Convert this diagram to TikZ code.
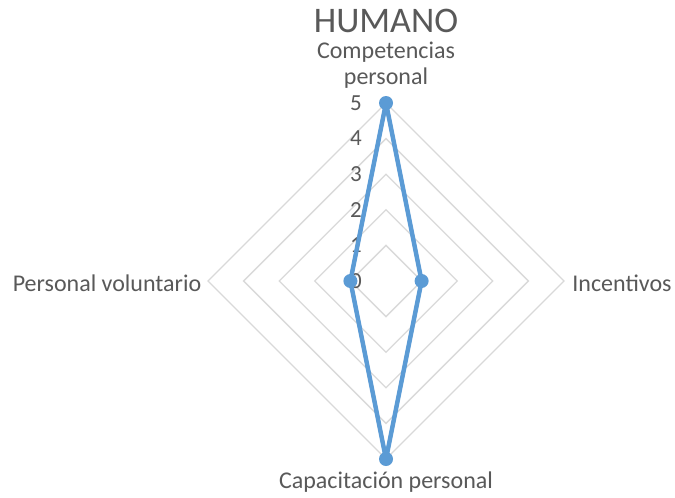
\documentclass[tikz,border=0pt]{standalone}
\usepackage{fontspec}
\setmainfont{Carlito}
\usetikzlibrary{calc}
\begin{document}
\begin{tikzpicture}[x=1pt,y=-1pt,
  grid/.style={draw=gridgray,line width=1.3pt},
  series/.style={draw=serblue,line width=4.5pt,line join=round},
  dot/.style={circle,fill=serblue,inner sep=0pt,minimum size=14pt},
  lbl/.style={text=txtgray,font=\fontsize{24}{28}\selectfont,inner sep=0pt},
  num/.style={text=txtgray,font=\fontsize{23}{26}\selectfont,inner sep=0pt}]
\definecolor{gridgray}{HTML}{D9D9D9}
\definecolor{serblue}{HTML}{5B9BD5}
\definecolor{txtgray}{HTML}{595959}
\useasboundingbox (0,0) rectangle (675,498);
\fill[white] (0,0) rectangle (675,498);
\coordinate (c) at (386,281);
\def\u{35.6}
\foreach \k in {1,...,5}{
  \draw[grid] ($(c)+(0,-\k*\u)$) -- ($(c)+(\k*\u,0)$) -- ($(c)+(0,\k*\u)$) -- ($(c)+(-\k*\u,0)$) -- cycle;
}
\foreach \k in {0,...,5}{
  \node[num] (n\k) at ($(c)+(-30,-\k*\u)$) {\k};
}
\coordinate (p1) at ($(c)+(0,-5*\u)$);
\coordinate (p2) at ($(c)+(1*\u,0)$);
\coordinate (p3) at ($(c)+(0,5*\u)$);
\coordinate (p4) at ($(c)+(-1*\u,0)$);
\draw[series] (p1) -- (p2) -- (p3) -- (p4) -- cycle;
\foreach \p in {p1,p2,p3,p4}{\node[dot] at (\p) {};}
\node[text=txtgray,font=\fontsize{36}{40}\selectfont,inner sep=0pt] (title) at (386,21) {HUMANO};
\node[lbl] (l1a) at (386,52) {Competencias};
\node[lbl] (l1b) at (386,78) {personal};
\node[lbl] (l2) at (622,283) {Incentivos};
\node[lbl] (l3) at (386,482) {Capacitación personal};
\node[lbl] (l4) at (107,283) {Personal voluntario};
\end{tikzpicture}
\end{document}
